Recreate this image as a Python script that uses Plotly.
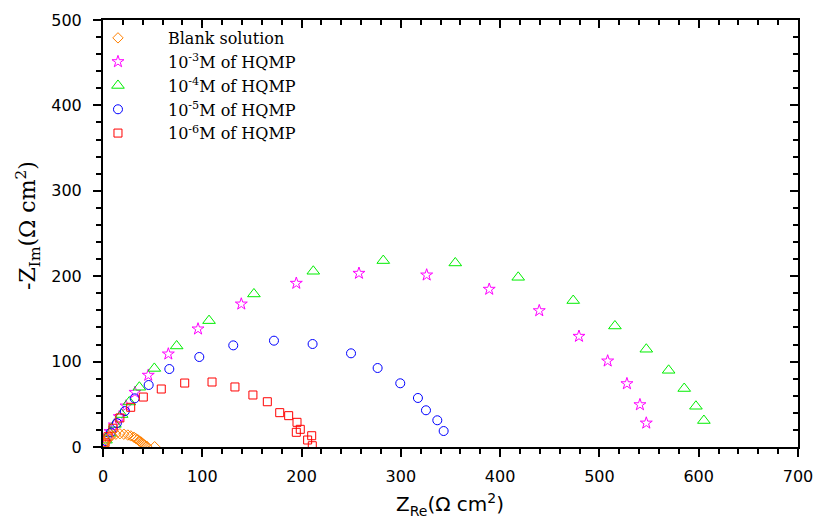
import plotly.graph_objects as go

# ---- data ----
blank_x = [1, 2, 3.5, 6, 9, 13, 17, 21, 25, 28, 31, 33, 35, 36.5, 38, 39, 40, 41, 42, 44, 52]
blank_y = [2, 5, 8, 11, 13.5, 15, 15.5, 15, 14, 13, 11.5, 10, 8.5, 7, 6, 5, 4, 3, 2, 1, 0.3]

m3_x = [1.5, 3.7, 7, 11.4, 16.4, 23.2, 32.2, 45.6, 65.8, 95.7, 139.3, 194.7, 257.8, 326, 389,
        439.4, 479.4, 508.3, 527.7, 540.8, 547.2]
m3_y = [5, 12, 18, 25.8, 35.5, 48, 64, 84, 108.9, 138.2, 167.4, 191.7, 203.4, 201.4, 184.7,
        159.6, 129.6, 100.7, 74.1, 49.5, 28]

m4_x = [3, 7, 12.0, 18.8, 26.5, 36.6, 51.7, 74.2, 106.8, 152, 211.8, 282.3, 354.8, 418.2,
        473.6, 515.6, 547.2, 569.7, 585.4, 597.2, 605.2]
m4_y = [8, 16, 26.5, 38, 52.7, 70, 92, 118.3, 148, 179.2, 205.8, 218.3, 215.5, 198.7,
        171.5, 141.7, 114.5, 89.8, 68.5, 47.7, 31]

m5_x = [3, 8, 14, 22, 31.9, 46, 66.8, 97, 131.2, 172.2, 211.1, 249.8, 276.6, 299.4, 317.2,
        325.3, 336.7, 343.1]
m5_y = [7, 17, 28, 42, 57, 72.6, 91.3, 105.4, 119, 124.5, 120.6, 109.7, 92.5, 74.6, 57.4,
        43, 31.3, 18.7]

m6_x = [2, 5, 10, 17, 27.9, 40.6, 58.7, 82.3, 109.8, 132.9, 151, 165.5, 178, 187, 195.4,
        198.7, 194.7, 210.2, 206.1, 210.8]
m6_y = [5, 12, 22, 34, 46.5, 58.5, 67.9, 74.9, 76.1, 70.3, 60.9, 53, 40.2, 36.7, 28.9,
        20.7, 17.2, 13.2, 8.2, 1.5]

x_ticks = [0, 100, 200, 300, 400, 500, 600, 700]
y_ticks = [0, 100, 200, 300, 400, 500]

# (name, x, y, symbol, colour, size, axes) - the blank series is drawn through the
# mirrored top/right axes (same ranges) so that those framing axes are rendered.
series = [
    ("Blank solution", blank_x, blank_y, "diamond-open", "#FF8000", 8, ("x2", "y2")),
    ("10<sup>-3</sup>M of HQMP", m3_x, m3_y, "star-open", "#FF00FF", 9, ("x", "y")),
    ("10<sup>-4</sup>M of HQMP", m4_x, m4_y, "triangle-up-open", "#00EE00", 11, ("x", "y")),
    ("10<sup>-5</sup>M of HQMP", m5_x, m5_y, "circle-open", "#0000FF", 9, ("x", "y")),
    ("10<sup>-6</sup>M of HQMP", m6_x, m6_y, "square-open", "#FF0000", 8, ("x", "y")),
]

fig = go.Figure()
for name, xs, ys, sym, col, sz, (xa, ya) in series:
    fig.add_trace(go.Scatter(
        x=xs, y=ys, mode="markers", name=name, xaxis=xa, yaxis=ya,
        marker=dict(symbol=sym, size=sz, color=col, line=dict(color=col, width=1)),
    ))

tickfont = dict(family="DejaVu Sans", size=16, color="black")
common = dict(showgrid=False, zeroline=False, showline=True, linecolor="black", linewidth=2)

fig.update_layout(
    width=815, height=519,
    margin=dict(l=103, r=17, t=20, b=72, autoexpand=False),
    paper_bgcolor="white", plot_bgcolor="white",
    showlegend=True,
    legend=dict(
        xref="container", yref="container",
        x=0.0834, y=0.9596, xanchor="left", yanchor="top",
        bgcolor="rgba(0,0,0,0)", itemwidth=90,
        font=dict(family="DejaVu Serif", size=16, color="black"),
        tracegroupgap=0, traceorder="normal",
    ),
    xaxis=dict(
        range=[0, 700], tickvals=x_ticks, ticktext=[str(v) for v in x_ticks],
        ticks="outside", ticklen=8, tickwidth=2, tickcolor="black", ticklabelstandoff=6,
        minor=dict(dtick=20, tick0=0, ticks="outside", ticklen=5, tickwidth=1.5, tickcolor="black"),
        tickfont=tickfont, **common,
    ),
    yaxis=dict(
        range=[0, 500], tickvals=y_ticks, ticktext=[str(v) for v in y_ticks],
        ticks="outside", ticklen=8, tickwidth=2, tickcolor="black", ticklabelstandoff=8,
        minor=dict(dtick=20, tick0=0, ticks="outside", ticklen=5, tickwidth=1.5, tickcolor="black"),
        tickfont=tickfont, **common,
    ),
    xaxis2=dict(
        overlaying="x", side="top", anchor="y2", range=[0, 700], tickvals=x_ticks,
        ticks="inside", ticklen=8, tickwidth=2, tickcolor="black", showticklabels=False,
        minor=dict(dtick=20, tick0=0, ticks="inside", ticklen=5, tickwidth=1.5, tickcolor="black"),
        **common,
    ),
    yaxis2=dict(
        overlaying="y", side="right", anchor="x2", range=[0, 500], tickvals=y_ticks,
        ticks="inside", ticklen=8, tickwidth=2, tickcolor="black", showticklabels=False,
        minor=dict(dtick=20, tick0=0, ticks="inside", ticklen=5, tickwidth=1.5, tickcolor="black"),
        **common,
    ),
    annotations=[
        dict(text="Z<sub>Re</sub>(\u03a9 cm<sup>2</sup>)", xref="paper", yref="paper",
             x=0.499, y=-0.135, xanchor="center", yanchor="middle", showarrow=False,
             font=dict(family="DejaVu Sans", size=20, color="black")),
        dict(text="-Z<sub>Im</sub>(\u03a9 cm<sup>2</sup>)", xref="paper", yref="paper",
             x=-0.108, y=0.52, xanchor="center", yanchor="middle", showarrow=False,
             textangle=-90,
             font=dict(family="DejaVu Serif", size=22, color="black")),
    ],
)

# remove the browser's default 8px body margin so the figure sits at the page origin
fig.write_html("out.html", post_script="document.body.style.margin='0';",
               config={"displayModeBar": False})
